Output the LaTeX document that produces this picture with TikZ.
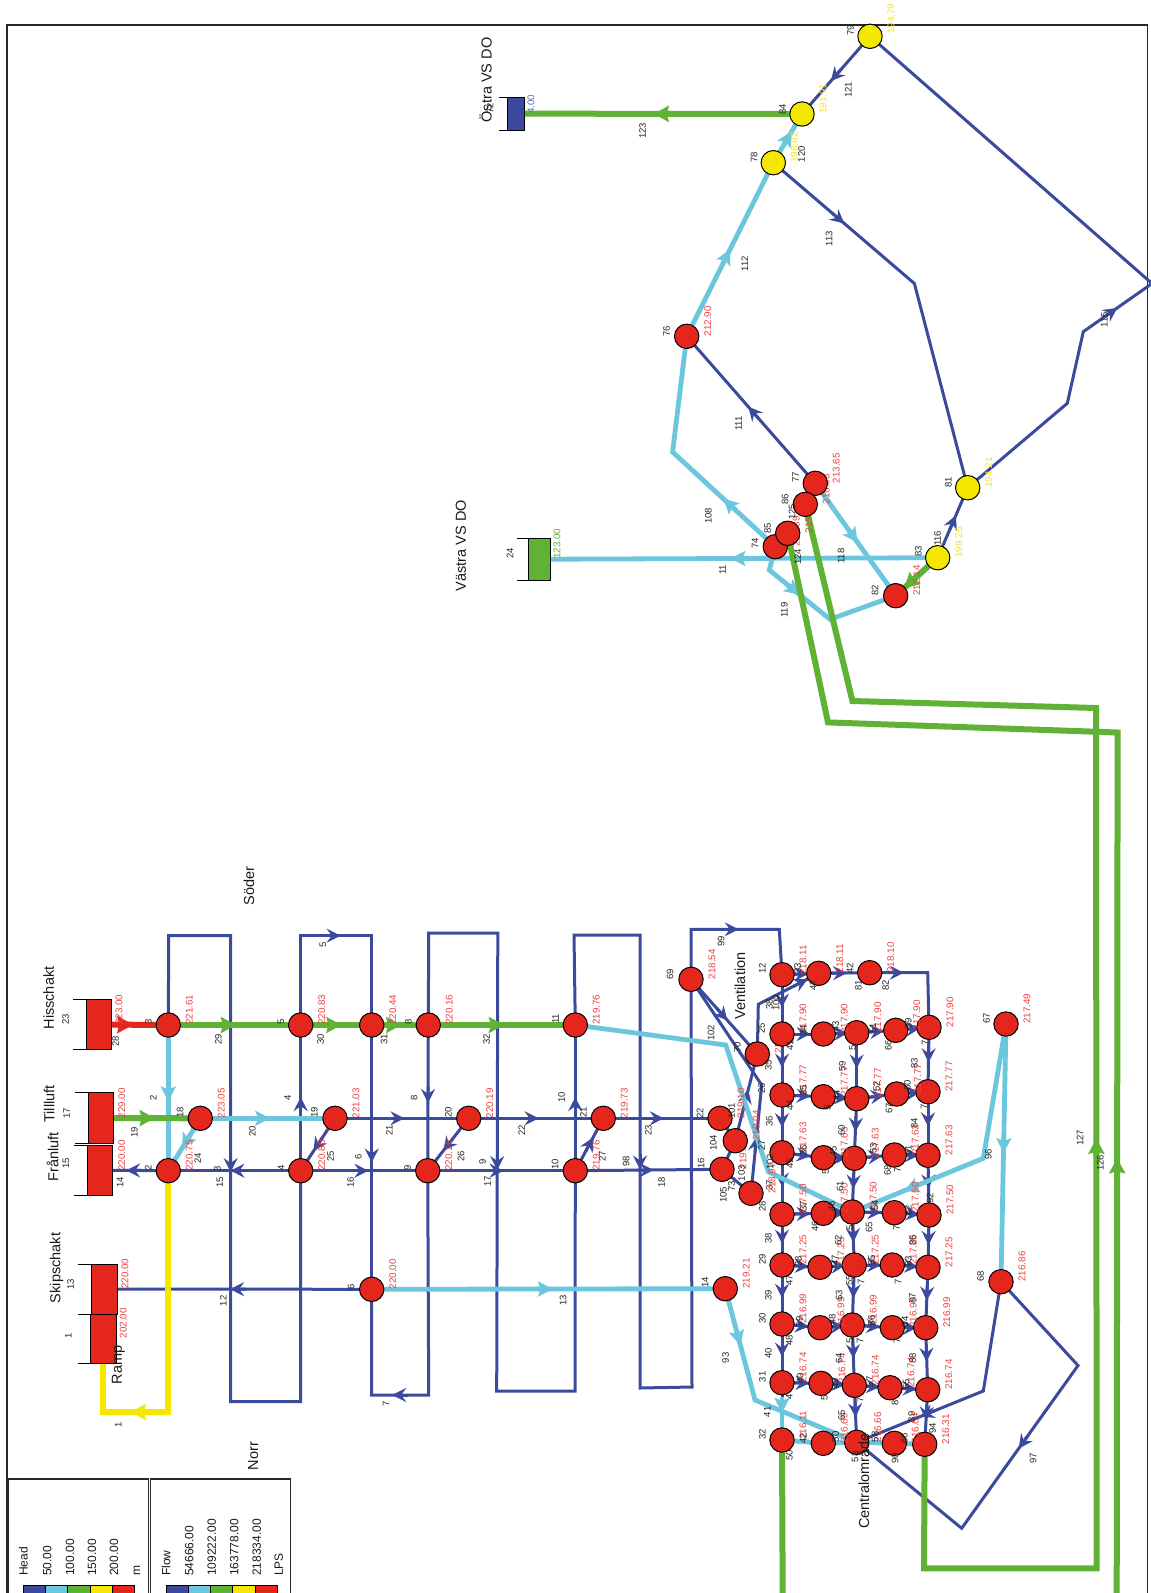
\documentclass[tikz,border=0pt]{standalone}
\usepackage{fontspec}
\setmainfont{Liberation Sans}
\usetikzlibrary{calc,arrows.meta}
\definecolor{cblue}{HTML}{3B4A9C}
\definecolor{ccyan}{HTML}{6BC6DE}
\definecolor{cgreen}{HTML}{5FB233}
\definecolor{cyell}{HTML}{F5E800}
\definecolor{cred}{HTML}{E5261C}
\definecolor{hred}{HTML}{EF4040}
\definecolor{hyel}{HTML}{F6E61A}
\pgfdeclarelayer{pipes}
\pgfsetlayers{pipes,main}
\tikzset{
 bluep/.style={draw=cblue,line width=3pt,>={Stealth[length=14pt,width=14pt,inset=5pt]}},
 cyanp/.style={draw=ccyan,line width=4.8pt,>={Stealth[length=15pt,width=15pt,inset=3pt]}},
 greenp/.style={draw=cgreen,line width=6pt,>={Stealth[length=15pt,width=16pt,inset=2pt]}},
 yellp/.style={draw=cyell,line width=6pt,>={Stealth[length=15pt,width=16pt,inset=2pt]}},
 redp/.style={draw=cred,line width=6pt,>={Stealth[length=16pt,width=17pt,inset=2pt]}},
 juncnode/.style={circle,draw=black,line width=1pt,minimum size=24.4pt,inner sep=0pt,outer sep=0pt},
 resnode/.style={rectangle,draw=black,line width=1pt,inner sep=0pt,outer sep=0pt},
 smalllab/.style={rotate=90,inner sep=0pt,text=black!85,font=\fontsize{9.5}{10}\selectfont},
 headlab/.style={rotate=90,anchor=west,inner sep=0pt,font=\fontsize{9.8}{10}\selectfont},
 biglab/.style={rotate=90,inner sep=0pt,text=black!90,font=\fontsize{14.5}{16}\selectfont},
 leglab/.style={rotate=90,anchor=west,inner sep=0pt,text=black!90,font=\fontsize{12}{13}\selectfont},
 framebox/.style={draw=black!85,line width=1.2pt},
}
\newcount\labcnt
\newcommand{\junc}[4]{\node[juncnode,fill=#4] (#1) at (#2,#3) {};}
\newcommand{\headat}[4][hred]{\global\advance\labcnt by 1 \node[headlab,text=#1] (h\the\labcnt) at ({#2+21},#3) {#4};}
\newcommand{\smlab}[3]{\global\advance\labcnt by 1 \node[smalllab] (s\the\labcnt) at (#1,#2) {#3};}
\newcommand{\biglab}[3]{\global\advance\labcnt by 1 \node[biglab] (b\the\labcnt) at (#1,#2) {#3};}
\newcommand{\legl}[3]{\global\advance\labcnt by 1 \node[leglab] (k\the\labcnt) at (#1,#2) {#3};}
\newcommand{\resv}[7]{\node[resnode,fill=#6,minimum width={#3-#2},minimum height={#5-#4}] (#1) at ({(#2+#3)/2},{(#4+#5)/2}) {};
 \draw[line width=1pt] (#1.north west) -- ++({#7-#2},0);
 \draw[line width=1pt] (#1.south west) -- ++({#7-#2},0);}
\newcommand{\fltip}[4][0.45]{\draw[#2,->] ($(#3)!#1!(#4)!-8pt!(#4)$) -- ($(#3)!#1!(#4)!8pt!(#4)$);}
\begin{document}
\begin{tikzpicture}[x=1pt,y=-1pt]
\useasboundingbox (0,0) rectangle (1151,1593);
% heads that later nodes partly cover
\headat{757.3}{1054}{218.51}
\headat{735.3}{1140.7}{219.04}
\headat{722}{1169.3}{219.00}
\headat{720}{1118.3}{219.10}
\headat{751}{1193.3}{218.97}
\headat{775.3}{546.7}{215.89}
\headat{787.7}{533.3}{215.07}
\headat{805.3}{504.3}{216.03}
% reservoirs
\resv{r23}{86.3}{111.7}{999.3}{1049.7}{cred}{72.7}
\resv{r17}{88.3}{113.7}{1092.7}{1143.3}{cred}{74.7}
\resv{r15}{87}{112.7}{1145}{1195.3}{cred}{74}
\resv{r13}{91.7}{117.3}{1264}{1314}{cred}{78}
\resv{r1}{90.7}{116.7}{1314}{1363.3}{cred}{78}
\resv{r72}{507.3}{524.3}{97.3}{130}{cblue}{498.7}
\resv{r24}{528}{550}{538.5}{580}{cgreen}{517}
% junctions
\junc{n3}{168.3}{1025}{cred}
\junc{n2}{168.3}{1170.7}{cred}
\junc{n18}{200.3}{1118.3}{cred}
\junc{n5}{300.7}{1025}{cred}
\junc{n4}{300.7}{1170.7}{cred}
\junc{n19}{335}{1118.3}{cred}
\junc{n7}{371.7}{1025}{cred}
\junc{n8}{428.3}{1025}{cred}
\junc{n11}{575.3}{1025}{cred}
\junc{n20}{468.7}{1118.3}{cred}
\junc{n21}{603.3}{1118.3}{cred}
\junc{n9}{427.7}{1170.7}{cred}
\junc{n10}{575.3}{1170.7}{cred}
\junc{n6}{371.7}{1289.3}{cred}
\junc{n69}{691}{979.3}{cred}
\junc{n70}{757.3}{1054}{cred}
\junc{n22}{720}{1118.3}{cred}
\junc{n16}{722}{1169.3}{cred}
\junc{n101}{735.3}{1140.7}{cred}
\junc{n28}{751}{1193.3}{cred}
\junc{n14}{725.3}{1288.7}{cred}
\junc{n67}{1006}{1024}{cred}
\junc{n68}{1001}{1281.7}{cred}
\junc{g11}{782}{974.7}{cred}
\junc{g12}{818.7}{973.3}{cred}
\junc{g13}{869.7}{972.7}{cred}
\junc{g21}{782}{1034}{cred}
\junc{g22}{823.3}{1034}{cred}
\junc{g23}{856.7}{1032.7}{cred}
\junc{g24}{895.7}{1030.3}{cred}
\junc{g25}{929}{1027.3}{cred}
\junc{g31}{782}{1095}{cred}
\junc{g32}{823.3}{1096.7}{cred}
\junc{g33}{856.7}{1098.7}{cred}
\junc{g34}{896.7}{1094}{cred}
\junc{g35}{928}{1091.7}{cred}
\junc{g41}{782}{1152.7}{cred}
\junc{g42}{823.3}{1157.7}{cred}
\junc{g43}{854.3}{1158.3}{cred}
\junc{g44}{894.3}{1155}{cred}
\junc{g45}{928}{1155.3}{cred}
\junc{g51}{782}{1214.3}{cred}
\junc{g52}{823.3}{1213.3}{cred}
\junc{g53}{852.3}{1212}{cred}
\junc{g54}{894.3}{1212.7}{cred}
\junc{g55}{929}{1215}{cred}
\junc{g61}{782}{1265}{cred}
\junc{g62}{820}{1267.3}{cred}
\junc{g63}{854.3}{1265}{cred}
\junc{g64}{892.3}{1265}{cred}
\junc{g65}{928}{1267.3}{cred}
\junc{g71}{782}{1324}{cred}
\junc{g72}{820}{1327.7}{cred}
\junc{g73}{852.3}{1325}{cred}
\junc{g74}{892.3}{1327.7}{cred}
\junc{g75}{925.7}{1327.7}{cred}
\junc{g81}{782}{1382.7}{cred}
\junc{g82}{821}{1383.3}{cred}
\junc{g83}{854.3}{1385.3}{cred}
\junc{g84}{890}{1387.7}{cred}
\junc{g85}{927.7}{1389.7}{cred}
\junc{g91}{782}{1440}{cred}
\junc{g92}{823.3}{1443.3}{cred}
\junc{g93}{856.7}{1442.3}{cred}
\junc{g94}{894.3}{1443.3}{cred}
\junc{g95}{924.7}{1444.3}{cred}
\junc{t76}{686.7}{336.3}{cred}
\junc{t77}{815.3}{483.3}{cred}
\junc{t86}{805.3}{504.3}{cred}
\junc{t74}{775.3}{546.7}{cred}
\junc{t85}{787.7}{533.3}{cred}
\junc{t82}{895.7}{595.7}{cred}
\junc{t79}{870}{36.3}{cyell}
\junc{t84}{802}{114}{cyell}
\junc{t78}{773.3}{162.7}{cyell}
\junc{t83}{937.7}{557.7}{cyell}
\junc{t81}{967.7}{487.7}{cyell}
\begin{pgfonlayer}{pipes}
 \fill[white] (0,0) rectangle (1151,1593);
 % frame and legend
 \draw[framebox] (7,1600) -- (7,25) -- (1147.3,25) -- (1147.3,1600);
 \draw[framebox] (8,1600) -- (8,1479) -- (148.3,1479) -- (148.3,1600);
 \draw[framebox] (150.3,1600) -- (150.3,1479) -- (290.7,1479) -- (290.7,1600);
 % corners
 \coordinate (c5a) at (300.7,935.7); \coordinate (c5b) at (371.7,935.7);
 \coordinate (c3a) at (168.7,935.7); \coordinate (c3b) at (230.6,935.7);
 \coordinate (c3c) at (230.6,1401.7); \coordinate (c3d) at (300.7,1401.7);
 \coordinate (c7a) at (428.7,1395); \coordinate (c7b) at (371.7,1395);
 \coordinate (c9a) at (428.7,933); \coordinate (c9b) at (497.8,933);
 \coordinate (c9c) at (496.7,1391); \coordinate (c9d) at (575,1391);
 \coordinate (c98a) at (574,935); \coordinate (c98b) at (640,935);
 \coordinate (c98c) at (640,1388); \coordinate (c98d) at (692,1387);
 \coordinate (c99a) at (691,929.3); \coordinate (c99b) at (779.3,929.3);
 \coordinate (c25) at (758.3,1004.3); \coordinate (c26) at (761.7,1085);
 \coordinate (c82) at (927.7,972.7);
 \coordinate (c68a) at (983.3,1391);
 \coordinate (c97a) at (1078,1365.5); \coordinate (c97b) at (961.7,1528.3);
 \coordinate (capex) at (1152,283.5); \coordinate (c115b) at (1083.3,331.7);
 \coordinate (c115c) at (1067.3,403.3); \coordinate (c113) at (914.4,283.5);
 \coordinate (c93) at (755,1400); \coordinate (c11a) at (725.7,1045);
 \coordinate (c11b) at (768.3,1171.7); \coordinate (c96) at (983.3,1158.3);
 \coordinate (c41) at (782,1401);
 \coordinate (c119a) at (769.3,570); \coordinate (c119b) at (830,619.3);
 \coordinate (c108) at (672.6,452);
 \coordinate (c127a) at (852.4,701); \coordinate (c127b) at (1096,708);
 \coordinate (c127c) at (1096.7,1568.3); \coordinate (c127d) at (924,1568.3);
 \coordinate (c126a) at (828,722.4); \coordinate (c126b) at (1117.6,732.5);
 \coordinate (c126c) at (1116.7,1600); \coordinate (c50) at (782.7,1600);
 \coordinate (c1a) at (168.3,1412); \coordinate (c1b) at (102.7,1412);
 \coordinate (r1in) at (102.7,1350);
 % blue pipes
 \draw[bluep] (n5) -- (c5a) -- (c5b) -- (n7); \fltip{bluep}{c5a}{c5b}
 \draw[bluep] (n3) -- (c3a) -- (c3b) -- (c3c) -- (c3d) -- (n4); \fltip[0.49]{bluep}{c3b}{c3c}
 \draw[bluep] (n5) -- (n4); \fltip{bluep}{n4}{n5}
 \draw[bluep] (n7) -- (n6); \fltip[0.49]{bluep}{n7}{n6}
 \draw[bluep] (n8) -- (n9); \fltip[0.48]{bluep}{n8}{n9}
 \draw[bluep] (n9) -- (c7a) -- (c7b) -- (n6); \fltip[0.5]{bluep}{c7a}{c7b}
 \draw[bluep] (n8) -- (c9a) -- (c9b) -- (c9c) -- (c9d) -- (n10); \fltip[0.5]{bluep}{c9b}{c9c}
 \draw[bluep] (n11) -- (c98a) -- (c98b) -- (c98c) -- (c98d) -- (n69); \fltip[0.5]{bluep}{c98b}{c98c}
 \draw[bluep] (n10) -- (n11); \fltip{bluep}{n10}{n11}
 \draw[bluep] (n69) -- (c99a) -- (c99b) -- (g11); \fltip{bluep}{c99a}{c99b}
 \draw[bluep] (n2) -- (n4); \fltip[0.47]{bluep}{n4}{n2}
 \draw[bluep] (n2) -- (r15); \fltip[0.5]{bluep}{n2}{r15}
 \draw[bluep] (n4) -- (n9); \fltip[0.47]{bluep}{n4}{n9}
 \draw[bluep] (n9) -- (n10); \fltip[0.46]{bluep}{n9}{n10}
 \draw[bluep] (n10) -- (n16); \fltip[0.48]{bluep}{n10}{n16}
 \draw[bluep] (n19) -- (n20); \fltip[0.46]{bluep}{n19}{n20}
 \draw[bluep] (n20) -- (n21); \fltip[0.46]{bluep}{n20}{n21}
 \draw[bluep] (n21) -- (n22); \fltip[0.45]{bluep}{n21}{n22}
 \draw[bluep] (n19) -- (n4); \fltip[0.5]{bluep}{n19}{n4}
 \draw[bluep] (n20) -- (n9); \fltip[0.5]{bluep}{n20}{n9}
 \draw[bluep] (n10) -- (n21); \fltip[0.5]{bluep}{n10}{n21}
 \draw[bluep] (n6) -- (r13); \fltip[0.5]{bluep}{n6}{r13}
 \draw[bluep] (n70) -- (c25) -- (g12); \fltip[0.7]{bluep}{c25}{g12}
 \draw[bluep] (n69) -- (n70); \fltip[0.47]{bluep}{n69}{n70}
 \draw[bluep] (n69) -- (c26) -- (n28); \fltip[0.45]{bluep}{n28}{c26}
 \draw[bluep] (n70) -- (n101); \fltip[0.5]{bluep}{n101}{n70}
 \draw[bluep] (n22) -- (n101) -- (n16) -- (n28);
 \draw[bluep] (g11) -- (g12); \fltip[0.5]{bluep}{g11}{g12}
 \draw[bluep] (g12) -- (g13); \fltip[0.4]{bluep}{g12}{g13}
 \draw[bluep] (g13) -- (c82) -- (g25); \fltip[0.45]{bluep}{g13}{c82}
 \foreach \a/\b in {g11/g21,g21/g31,g31/g41,g41/g51,g51/g61,g61/g71,g71/g81,
                    g23/g33,g33/g43,g43/g53,g53/g63,g63/g73,g73/g83,g83/g93,
                    g25/g35,g35/g45,g45/g55,g55/g65,g65/g75,g75/g85,g85/g95}
   {\draw[bluep] (\a) -- (\b); \fltip[0.42]{bluep}{\a}{\b}}
 \draw[bluep] (g81) -- (c41);
 \foreach \a/\b in {g21/g22,g22/g23,g23/g24,g24/g25,g31/g32,g32/g33,g33/g34,g34/g35,
                    g41/g42,g42/g43,g43/g44,g44/g45,g51/g52,g52/g53,g53/g54,g54/g55,
                    g61/g62,g62/g63,g63/g64,g64/g65,g71/g72,g72/g73,g73/g74,g74/g75,
                    g81/g82,g82/g83,g83/g84,g84/g85}
   {\draw[bluep] (\a) -- (\b); \fltip[0.5]{bluep}{\a}{\b}}
 \draw[bluep] (n68) -- (c68a) -- (g93); \fltip[0.44]{bluep}{c68a}{g93}
 \draw[bluep] (n68) -- (c97a) -- (c97b) -- (g93); \fltip[0.47]{bluep}{c97a}{c97b}
 \draw[bluep] (t79) -- (t84); \fltip[0.5]{bluep}{t79}{t84}
 \draw[bluep] (t79) -- (capex) -- (c115b) -- (c115c) -- (t81); \fltip[0.4]{bluep}{c115b}{capex}
 \draw[bluep] (t78) -- (c113) -- (t81); \fltip[0.46]{bluep}{t78}{c113}
 \draw[bluep] (t77) -- (t76); \fltip[0.48]{bluep}{t77}{t76}
 \draw[bluep] (t81) -- (t83); \fltip[0.5]{bluep}{t83}{t81}
 % cyan pipes
 \draw[cyanp] (n3) -- (n2); \fltip[0.47]{cyanp}{n3}{n2}
 \draw[cyanp] (n18) -- (n2); \fltip[0.45]{cyanp}{n18}{n2}
 \draw[cyanp] (n18) -- (n19); \fltip[0.46]{cyanp}{n18}{n19}
 \draw[cyanp] (n6) -- (n14); \fltip[0.49]{cyanp}{n6}{n14}
 \draw[cyanp] (n14) -- (c93) -- (g93); \fltip[0.44]{cyanp}{n14}{c93}
 \draw[cyanp] (n11) -- (c11a) -- (c11b) -- (g53);
 \draw[cyanp] (c41) -- (g91); \fltip[0.1]{cyanp}{c41}{g91}
 \foreach \a/\b in {g91/g92,g92/g93,g93/g94,g94/g95} {\draw[cyanp] (\a) -- (\b);}
 \draw[cyanp] (n67) -- (n68); \fltip[0.47]{cyanp}{n67}{n68}
 \draw[cyanp] (n67) -- (c96) -- (g53); \fltip[0.55]{cyanp}{c96}{g53}
 \draw[cyanp] (t83) -- (r24); \fltip[0.5]{cyanp}{t83}{r24}
 \draw[cyanp] (t74) -- (c119a) -- (c119b) -- (t82); \fltip[0.4]{cyanp}{c119a}{c119b}
 \draw[cyanp] (t74) -- (c108) -- (t76); \fltip[0.45]{cyanp}{t74}{c108}
 \draw[cyanp] (t76) -- (t78); \fltip[0.46]{cyanp}{t76}{t78}
 \draw[cyanp] (t78) -- (t84); \fltip[0.5]{cyanp}{t78}{t84}
 \draw[cyanp] (t77) -- (t82); \fltip[0.47]{cyanp}{t77}{t82}
 % green pipes
 \draw[greenp] (n3) -- (n5); \fltip[0.45]{greenp}{n3}{n5}
 \draw[greenp] (n5) -- (n7); \fltip[0.46]{greenp}{n5}{n7}
 \draw[greenp] (n7) -- (n8); \fltip[0.38]{greenp}{n7}{n8}
 \draw[greenp] (n8) -- (n11); \fltip[0.46]{greenp}{n8}{n11}
 \draw[greenp] (r17) -- (n18); \fltip[0.46]{greenp}{r17}{n18}
 \draw[greenp] (t84) -- (r72); \fltip[0.49]{greenp}{t84}{r72}
 \draw[greenp] (t83) -- (t82); \fltip[0.66]{greenp}{t83}{t82}
 \draw[greenp] (t86) -- (c127a) -- (c127b) -- (c127c) -- (c127d) -- (g95); \fltip[0.49]{greenp}{c127c}{c127b}
 \draw[greenp] (t85) -- (c126a) -- (c126b) -- (c126c); \fltip[0.5]{greenp}{c126c}{c126b}
 \draw[greenp] (g91) -- (c50);
 % yellow and red pipes
 \draw[yellp] (n2) -- (c1a) -- (c1b) -- (r1in); \fltip[0.45]{yellp}{c1a}{c1b}
 \draw[redp] (r23) -- (n3); \fltip[0.38]{redp}{r23}{n3}
\end{pgfonlayer}
% legend bars
\foreach \i/\c in {0/cblue,1/ccyan,2/cgreen,3/cyell,4/cred}{
 \draw[fill=\c,line width=1pt] ({23.3+22.33*\i},1585.3) rectangle ({23.3+22.33*(\i+1)},1600);
 \draw[fill=\c,line width=1pt] ({166+22.27*\i},1585.3) rectangle ({166+22.27*(\i+1)},1600);
}
\legl{23.3}{1576}{Head}\legl{47.3}{1576}{50.00}\legl{70}{1576}{100.00}\legl{92}{1576}{150.00}\legl{114}{1576}{200.00}\legl{137}{1576}{m}
\legl{166}{1576}{Flow}\legl{189.3}{1576}{54666.00}\legl{211.7}{1576}{109222.00}\legl{234.3}{1576}{163778.00}\legl{256.7}{1576}{218334.00}\legl{278.7}{1576}{LPS}
% head labels
\headat{168.3}{1025}{221.61}\headat{300.7}{1025}{220.83}\headat{371.7}{1025}{220.44}\headat{428.3}{1025}{220.16}\headat{575.3}{1025}{219.76}
\headat{200.3}{1118.3}{223.05}\headat{335}{1118.3}{221.03}\headat{468.7}{1118.3}{220.19}\headat{603.3}{1118.3}{219.73}
\headat{168.3}{1170.7}{220.75}\headat{300.7}{1170.7}{220.80}\headat{427.7}{1170.7}{220.16}\headat{575.3}{1170.7}{219.76}
\headat{371.7}{1289.3}{220.00}\headat{691}{979.3}{218.54}\headat{725.3}{1288.7}{219.21}\headat{1006}{1024}{217.49}\headat{1001}{1281.7}{216.86}
\headat{98}{1025}{223.00}\headat{100.7}{1118.3}{229.00}\headat{100.7}{1170.7}{220.00}\headat{104}{1289}{220.00}\headat{102.3}{1338.3}{202.00}
\headat[cblue!80]{510}{114}{4.00}\headat[cgreen]{536}{559}{123.00}
\headat{782}{974.7}{218.11}\headat{818.7}{973.3}{218.11}\headat{869.7}{972.7}{218.10}
\headat{782}{1034}{217.90}\headat{823.3}{1034}{217.90}\headat{856.7}{1032.7}{217.90}\headat{895.7}{1030.3}{217.90}\headat{929}{1027.3}{217.90}
\headat{782}{1095}{217.77}\headat{823.3}{1096.7}{217.77}\headat{856.7}{1098.7}{217.77}\headat{896.7}{1094}{217.77}\headat{928}{1091.7}{217.77}
\headat{782}{1152.7}{217.63}\headat{823.3}{1157.7}{217.63}\headat{854.3}{1158.3}{217.63}\headat{894.3}{1155}{217.63}\headat{928}{1155.3}{217.63}
\headat{782}{1214.3}{217.50}\headat{823.3}{1213.3}{217.50}\headat{852.3}{1212}{217.50}\headat{894.3}{1212.7}{217.50}\headat{929}{1215}{217.50}
\headat{782}{1265}{217.25}\headat{820}{1267.3}{217.25}\headat{854.3}{1265}{217.25}\headat{892.3}{1265}{217.25}\headat{928}{1267.3}{217.25}
\headat{782}{1324}{216.99}\headat{820}{1327.7}{216.99}\headat{852.3}{1325}{216.99}\headat{892.3}{1327.7}{216.99}\headat{925.7}{1327.7}{216.99}
\headat{782}{1382.7}{216.74}\headat{821}{1383.3}{216.74}\headat{854.3}{1385.3}{216.74}\headat{890}{1387.7}{216.74}\headat{927.7}{1389.7}{216.74}
\headat{782}{1440}{216.11}\headat{823.3}{1443.3}{216.69}\headat{856.7}{1442.3}{216.66}\headat{894.3}{1443.3}{216.64}\headat{924.7}{1444.3}{216.31}
\headat{686.7}{336.3}{212.90}\headat{815.3}{483.3}{213.65}\headat{895.7}{595.7}{212.14}
\headat[hyel]{870}{34}{194.79}\headat[hyel]{802}{114}{191.91}\headat[hyel]{773.3}{162.7}{198.82}\headat[hyel]{937.7}{557.7}{199.26}\headat[hyel]{967.7}{487.7}{194.21}
% small labels: left block
\smlab{65.7}{1019.3}{23}\smlab{115.7}{1041.7}{28}\smlab{148.3}{1022.3}{3}\smlab{218.3}{1039.3}{29}\smlab{281}{1022.3}{5}\smlab{320.7}{1039.3}{30}
\smlab{66.7}{1113.3}{17}\smlab{134.3}{1132.3}{19}\smlab{153.3}{1097.7}{2}\smlab{180}{1112.3}{18}\smlab{252.3}{1131}{20}\smlab{287.7}{1097.7}{4}\smlab{314.3}{1112.7}{19}
\smlab{66}{1163.3}{15}\smlab{120}{1182.7}{14}\smlab{148.3}{1167.7}{2}\smlab{197.7}{1158.3}{24}\smlab{217.3}{1169}{3}\smlab{220}{1182.3}{15}\smlab{281}{1168.3}{4}\smlab{330.7}{1156.7}{25}
\smlab{70.7}{1284}{13}\smlab{68.3}{1335.7}{1}\smlab{223.3}{1300.7}{12}\smlab{118.3}{1425}{1}
\smlab{384}{1039.3}{31}\smlab{408.3}{1022.3}{8}\smlab{486.7}{1039.3}{32}\smlab{555.7}{1019}{11}
\smlab{414}{1097.7}{8}\smlab{561.7}{1097.7}{10}\smlab{389.3}{1130}{21}\smlab{448.3}{1112.7}{20}\smlab{521.7}{1130}{22}\smlab{583.3}{1112.7}{21}\smlab{648.3}{1130}{23}
\smlab{358.3}{1156.7}{6}\smlab{350.7}{1182.3}{16}\smlab{407.7}{1168.3}{9}\smlab{461}{1156.7}{26}\smlab{482.7}{1161.7}{9}\smlab{487.7}{1181.7}{17}\smlab{555}{1164}{10}\smlab{602.3}{1156.7}{27}\smlab{626}{1161}{98}\smlab{661.7}{1182.3}{18}
\smlab{351}{1287.3}{6}\smlab{563}{1300.5}{13}\smlab{386}{1404}{7}\smlab{323}{945}{5}
% small labels: grid, upper
\smlab{721}{941.7}{99}\smlab{670}{974}{69}\smlab{711}{1032.7}{102}\smlab{737.3}{1047.3}{70}\smlab{761.7}{1028.3}{25}\smlab{768.3}{1065}{35}
\smlab{762.3}{968.3}{12}\smlab{797.7}{968.3}{33}\smlab{813.3}{985}{47}\smlab{850}{968.3}{42}\smlab{858.3}{985}{81}\smlab{885.7}{985}{82}\smlab{769.3}{1004.3}{38}\smlab{776}{1003}{100}
\smlab{803.3}{1030}{34}\smlab{790}{1045}{41}\smlab{835.7}{1026.7}{43}\smlab{873}{1028}{51}\smlab{852.3}{1048}{5}\smlab{888.3}{1045}{66}\smlab{908.3}{1023.3}{59}\smlab{925}{1043}{7}
\smlab{803.3}{1090}{35}\smlab{790}{1105}{44}\smlab{827.3}{1108}{5}\smlab{836.7}{1095}{44}\smlab{842.3}{1066.7}{59}\smlab{876.7}{1086.7}{52}\smlab{889}{1108}{67}\smlab{907.3}{1085}{60}\smlab{924}{1107}{7}\smlab{914.3}{1063.3}{83}
\smlab{769.3}{1121.7}{36}\smlab{700}{1113}{22}\smlab{731.7}{1110.7}{101}\smlab{713.3}{1143}{104}\smlab{701}{1163}{16}\smlab{723.3}{1195}{105}\smlab{731.7}{1186.7}{73}\smlab{741.7}{1173.3}{103}
\smlab{761.7}{1088.3}{26}\smlab{761.7}{1145}{27}\smlab{770}{1161.7}{102}\smlab{769.3}{1185}{37}\smlab{762.3}{1206.7}{28}
\smlab{790}{1163}{45}\smlab{803.3}{1150}{36}\smlab{833.3}{1151.7}{45}\smlab{825.7}{1171.7}{5}\smlab{841.7}{1130}{60}\smlab{873.3}{1148.3}{53}\smlab{887.7}{1170}{68}\smlab{914.3}{1123.3}{84}\smlab{908.3}{1150}{61}\smlab{897.3}{1170}{7}
\smlab{803.3}{1206.7}{37}\smlab{831.7}{1206.7}{46}\smlab{815}{1226.7}{46}\smlab{840}{1186.7}{61}\smlab{875}{1205}{54}\smlab{908.3}{1210}{62}\smlab{930}{1198.3}{92}\smlab{896.7}{1228}{7}\smlab{850}{1228}{5}\smlab{869}{1227}{65}
\smlab{988.3}{1154}{96}\smlab{986.7}{1018.3}{67}
% small labels: grid, lower
\smlab{768.3}{1238.3}{38}\smlab{838.3}{1240}{62}\smlab{912.7}{1240.7}{86}\smlab{762.3}{1259.3}{29}\smlab{798.3}{1261.7}{38}\smlab{835}{1260}{47}\smlab{871.7}{1260}{55}\smlab{908.3}{1261.7}{63}
\smlab{789.3}{1280}{47}\smlab{849.3}{1280}{55}\smlab{861}{1282}{7}\smlab{898}{1282}{7}\smlab{705}{1282.7}{14}\smlab{725.7}{1357.7}{93}\smlab{980.7}{1276.7}{68}
\smlab{768.3}{1295}{39}\smlab{839}{1295}{63}\smlab{912.3}{1298.3}{87}\smlab{762.3}{1318.3}{30}\smlab{799.3}{1321.7}{39}\smlab{832.3}{1319.3}{48}\smlab{871.7}{1320.7}{56}\smlab{905}{1321.7}{64}
\smlab{789.3}{1340}{48}\smlab{850}{1341}{5}\smlab{860}{1341}{7}\smlab{897}{1341}{7}
\smlab{768.3}{1353.3}{40}\smlab{839}{1358.3}{64}\smlab{912.7}{1358.3}{88}\smlab{762.3}{1376.7}{31}\smlab{800}{1378.3}{40}\smlab{835}{1383.3}{49}\smlab{870}{1381.7}{57}\smlab{906}{1384.3}{65}
\smlab{789.3}{1396.7}{4}\smlab{824.3}{1398.3}{5}\smlab{860}{1400}{7}\smlab{895}{1402.7}{8}\smlab{767.3}{1411.7}{41}\smlab{762.3}{1434}{32}
\smlab{841.7}{1415}{65}\smlab{911.7}{1416.7}{89}\smlab{932.7}{1428.3}{94}\smlab{803.3}{1438.3}{42}\smlab{835.7}{1436.7}{50}\smlab{875}{1436.7}{58}\smlab{904.3}{1438.3}{66}\smlab{789.3}{1455}{50}\smlab{855}{1456.7}{58}\smlab{895}{1458.3}{90}
\smlab{1033}{1458}{97}\smlab{1080}{1138}{127}\smlab{1100.3}{1163}{126}
% small labels: top
\smlab{850.7}{30.7}{79}\smlab{848.3}{90}{121}\smlab{782.7}{109}{84}\smlab{754}{157.7}{78}\smlab{801.7}{154.3}{120}\smlab{642.7}{131}{123}\smlab{490}{108}{72}
\smlab{744.7}{264}{112}\smlab{829}{238.8}{113}\smlab{666.5}{331}{76}\smlab{738.6}{423.7}{111}\smlab{1104.5}{320}{115}\smlab{708.3}{516}{108}\smlab{722.7}{570}{11}
\smlab{755}{543.3}{74}\smlab{767.7}{528.3}{85}\smlab{795.7}{477.3}{77}\smlab{785}{499.3}{86}\smlab{792}{511.7}{125}\smlab{797.7}{556.7}{124}\smlab{841}{556}{118}\smlab{784.3}{610}{119}
\smlab{875}{590}{82}\smlab{918.3}{551.7}{83}\smlab{937.7}{538.3}{116}\smlab{948.3}{482.7}{81}\smlab{510}{553.7}{24}
% big labels
\biglab{48.7}{998}{Hisschakt}\biglab{49.3}{1104}{Tillluft}\biglab{52.7}{1156.7}{Frånluft}\biglab{56.7}{1268}{Skipschakt}\biglab{118.3}{1365}{Ramp}
\biglab{249}{886}{Söder}\biglab{253.3}{1456}{Norr}\biglab{740}{986}{Ventilation}\biglab{863.3}{1481}{Centralområde}\biglab{485.7}{80}{Östra VS DO}\biglab{461}{545.6}{Västra VS DO}
\end{tikzpicture}
\end{document}
